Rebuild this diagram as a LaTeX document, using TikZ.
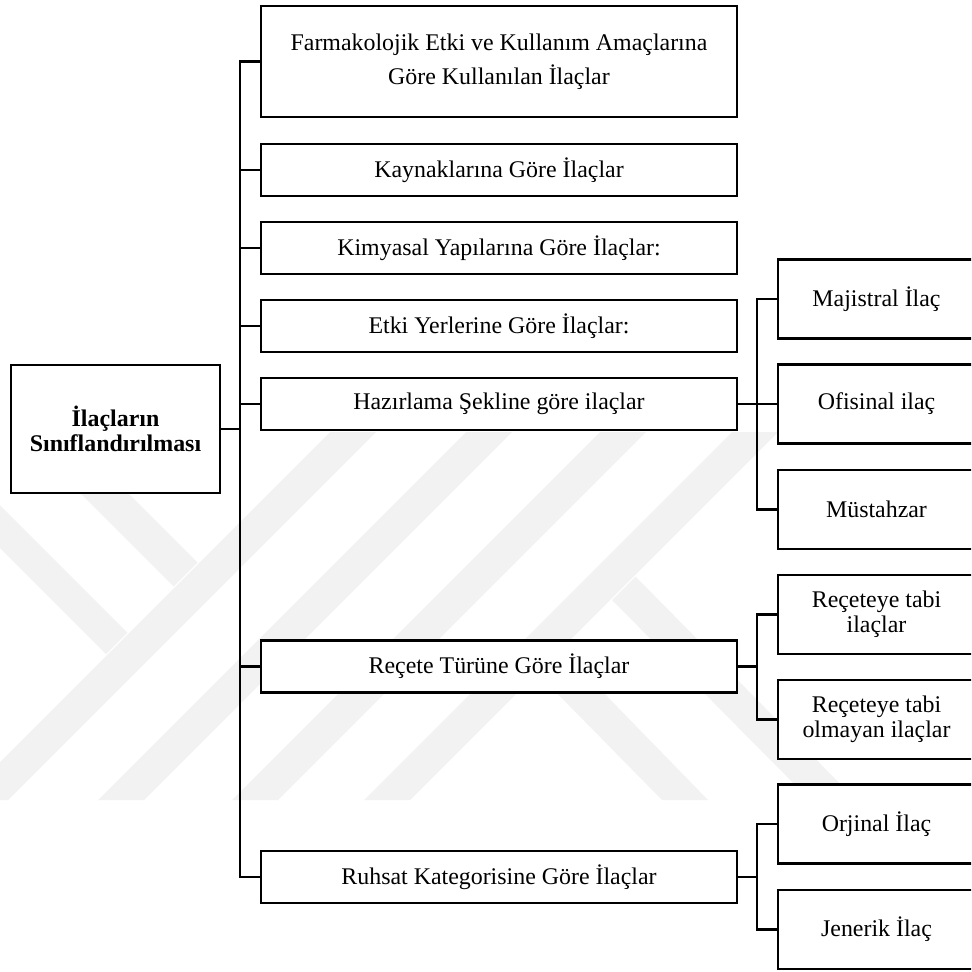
\documentclass[tikz,border=0pt]{standalone}
\usepackage{fontspec}
\setmainfont{Liberation Serif}
\begin{document}
\begin{tikzpicture}[x=0.02cm,y=-0.02cm,
  box/.style={draw, line width=1.4pt, fill=white, inner sep=0pt, align=center,
              font=\fontsize{13.6pt}{19.4pt}\selectfont},
  midbox/.style={box, minimum width=9.52cm, minimum height=1.04cm},
  leafbox/.style={box, minimum width=3.94cm, minimum height=1.58cm,
                  font=\fontsize{13.6pt}{14.2pt}\selectfont},
  link/.style={line width=1.4pt},
  wm/.style={fill=black!5, draw=none}]

\useasboundingbox (0,0) rectangle (971,972);
\clip (0,0) rectangle (971,972);

% faint background emblem made of diagonal strips
\begin{scope}
  \clip (0,432) rectangle (971,800);
  \foreach \c in {762,898,1032,1164}
    \fill[wm] ({\c-432},432) -- ({\c+46-432},432) -- ({\c+46-800},800) -- ({\c-800},800) -- cycle;
  \fill[wm] (19,432) -- (67,432) -- (197.5,562.5) -- (173.5,586.5) -- cycle;
  \fill[wm] (-116,432) -- (-73,432) -- (127.5,632.5) -- (106,654) -- cycle;
  \fill[wm] (562,650) -- (538,674) -- (662,800) -- (708,800) -- cycle;
  \fill[wm] (635.5,576.5) -- (612,600) -- (810,800) -- (856,800) -- cycle;
\end{scope}

% root
\node[box, minimum width=4.18cm, minimum height=2.56cm,
      font=\bfseries\fontsize{13.6pt}{14.2pt}\selectfont] (root) at (115.5,429)
      {İlaçların\\Sınıflandırılması};

% main categories
\node[midbox, minimum height=2.22cm] (farm) at (499,61.5)
      {Farmakolojik Etki ve Kullanım Amaçlarına\\Göre Kullanılan İlaçlar};
\node[midbox] (kayn) at (499,170) {Kaynaklarına Göre İlaçlar};
\node[midbox] (kimy) at (499,248) {Kimyasal Yapılarına Göre İlaçlar:};
\node[midbox] (etki) at (499,326) {Etki Yerlerine Göre İlaçlar:};
\node[midbox] (hazr) at (499,404) {Hazırlama Şekline göre ilaçlar};
\node[midbox] (rect) at (499,666.5) {Reçete Türüne Göre İlaçlar};
\node[midbox] (ruhs) at (499,877) {Ruhsat Kategorisine Göre İlaçlar};

% sub categories
\node[leafbox] (maj)   at (876.5,299)   {Majistral İlaç};
\node[leafbox] (ofi)   at (876.5,404)   {Ofisinal ilaç};
\node[leafbox] (mus)   at (876.5,509.5) {Müstahzar};
\node[leafbox] (rtabi) at (876.5,614.5) {Reçeteye tabi\\ilaçlar};
\node[leafbox] (rolm)  at (876.5,719.5) {Reçeteye tabi\\olmayan ilaçlar};
\node[leafbox] (orj)   at (876.5,824)   {Orjinal İlaç};
\node[leafbox] (jen)   at (876.5,929.5) {Jenerik İlaç};

% trunk lines
\coordinate (trunk) at (240,0);
\coordinate (subtrunk) at (757,0);

\draw[link] (farm.west) -| (trunk |- ruhs.west) -- (ruhs.west);
\foreach \n in {kayn,kimy,etki,hazr,rect}
  \draw[link] (\n.west) -- (\n.west -| trunk);
\draw[link] (root.east) -- (root.east -| trunk);

\draw[link] (maj.west) -| (subtrunk |- mus.west) -- (mus.west);
\draw[link] (hazr.east) -- (ofi.west);

\draw[link] (rtabi.west) -| (subtrunk |- rolm.west) -- (rolm.west);
\draw[link] (rect.east) -- (rect.east -| subtrunk);

\draw[link] (orj.west) -| (subtrunk |- jen.west) -- (jen.west);
\draw[link] (ruhs.east) -- (ruhs.east -| subtrunk);
\end{tikzpicture}
\end{document}
